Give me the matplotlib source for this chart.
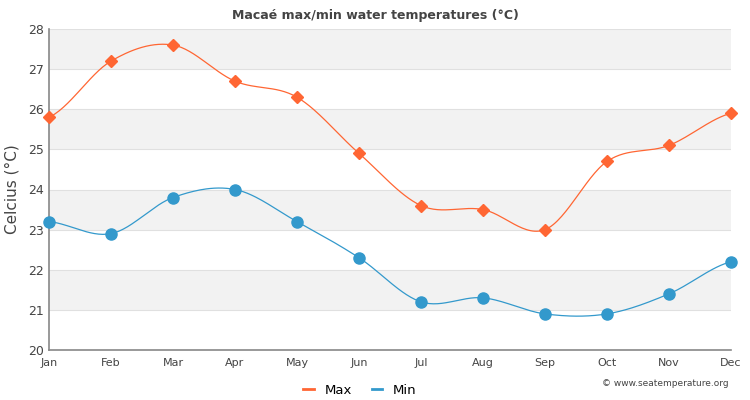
import numpy as np
import matplotlib
matplotlib.use("Agg")
import matplotlib.pyplot as plt
from matplotlib.lines import Line2D

months = ["Jan", "Feb", "Mar", "Apr", "May", "Jun", "Jul", "Aug", "Sep", "Oct", "Nov", "Dec"]
max_temp = [25.8, 27.2, 27.6, 26.7, 26.3, 24.9, 23.6, 23.5, 23.0, 24.7, 25.1, 25.9]
min_temp = [23.2, 22.9, 23.8, 24.0, 23.2, 22.3, 21.2, 21.3, 20.9, 20.9, 21.4, 22.2]

max_color = "#ff6633"
min_color = "#3399cc"


def smooth(y, n=30):
    # cubic hermite through the points, flat-ish ends like a spline chart
    y = np.asarray(y, dtype=float)
    x = np.arange(len(y))
    m = np.zeros_like(y)
    m[1:-1] = (y[2:] - y[:-2]) / 2.0
    m[0] = (y[1] - y[0]) * 0.5
    m[-1] = (y[-1] - y[-2]) * 0.5
    xs, ys = [], []
    for i in range(len(y) - 1):
        t = np.linspace(0, 1, n, endpoint=False)
        h00 = 2 * t**3 - 3 * t**2 + 1
        h10 = t**3 - 2 * t**2 + t
        h01 = -2 * t**3 + 3 * t**2
        h11 = t**3 - t**2
        xs.append(x[i] + t)
        ys.append(h00 * y[i] + h10 * m[i] + h01 * y[i + 1] + h11 * m[i + 1])
    xs.append([x[-1]])
    ys.append([y[-1]])
    return np.concatenate(xs), np.concatenate(ys)


fig = plt.figure(figsize=(7.5, 4), dpi=100)
ax = fig.add_axes([0.0653, 0.125, 0.9094, 0.8025])

# alternating bands
for lo in range(20, 28):
    if lo % 2 == 1:
        ax.axhspan(lo, lo + 1, color="#f2f2f2", zorder=0, lw=0)
for v in range(21, 29):
    ax.axhline(v, color="#e0e0e0", lw=0.8, zorder=1)

x = np.arange(len(months))
sx, sy = smooth(max_temp)
ax.plot(sx, sy, color=max_color, lw=0.9, zorder=3)
ax.plot(x, max_temp, "D", color=max_color, ms=6.5, zorder=4, clip_on=False)
sx, sy = smooth(min_temp)
ax.plot(sx, sy, color=min_color, lw=0.9, zorder=3)
ax.plot(x, min_temp, "o", color=min_color, ms=8, zorder=4, clip_on=False)

ax.set_xlim(0, 11)
ax.set_ylim(20, 28)
ax.set_xticks(x)
ax.set_xticklabels(months)
ax.set_yticks(range(20, 29))
ax.tick_params(axis="both", length=0, labelsize=9, colors="#444444")
ax.tick_params(axis="x", pad=6, labelsize=8)
for s in ["top", "right"]:
    ax.spines[s].set_visible(False)
for s in ["left", "bottom"]:
    ax.spines[s].set_color("#888888")
    ax.spines[s].set_linewidth(1.2)
ax.set_ylabel("Celcius (°C)", fontsize=11, color="#444444", labelpad=6)

fig.text(0.5, 0.96, "Macaé max/min water temperatures (°C)", ha="center", va="center",
         fontsize=9, fontweight="bold", color="#444444")

handles = [Line2D([], [], color=max_color, lw=2), Line2D([], [], color=min_color, lw=2)]
fig.legend(handles, ["Max", "Min"], loc="center", bbox_to_anchor=(0.48, 0.025), ncol=2,
           frameon=False, fontsize=9.5, handlelength=0.8, columnspacing=1.5, handletextpad=0.8)
fig.text(0.972, 0.04, "© www.seatemperature.org", ha="right", va="center", fontsize=6.5,
         color="#444444")

fig.savefig("out.png", dpi=100)
